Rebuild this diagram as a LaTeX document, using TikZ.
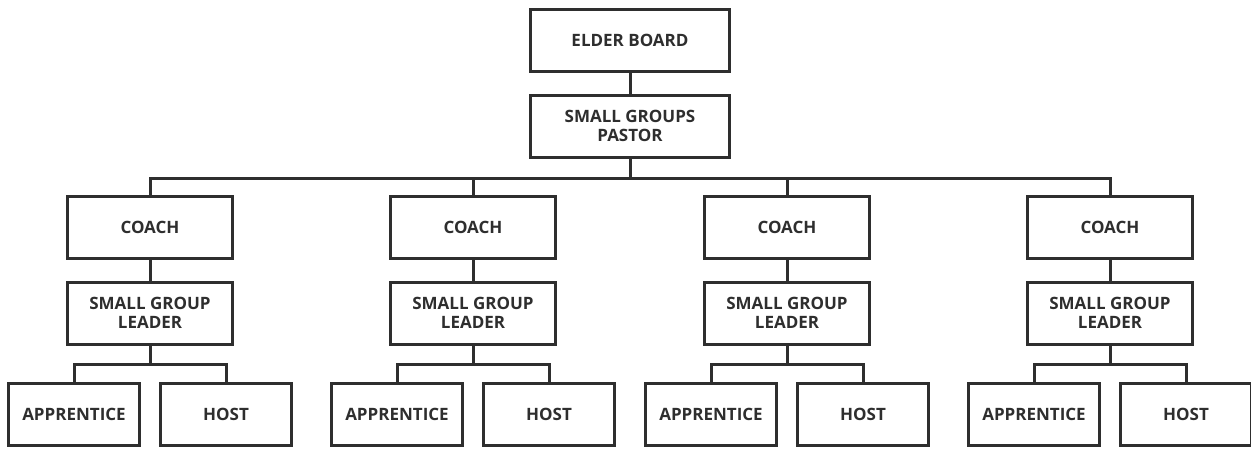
\documentclass[tikz,border=0pt]{standalone}
\usepackage{fontspec}
\setmainfont{Open Sans}
\definecolor{ink}{HTML}{2E2E2E}
\tikzset{
  box/.style={draw=ink, line width=3pt, text=ink, font=\fontsize{17}{19.5}\selectfont\bfseries, align=center, inner sep=0pt, outer sep=0pt, minimum height=62pt},
  topbox/.style={box, minimum width=199pt},
  midbox/.style={box, minimum width=165pt},
  leafbox/.style={box, minimum width=131pt},
  conn/.style={draw=ink, line width=3pt}
}
\begin{document}
\begin{tikzpicture}[x=1pt,y=-1pt]
\useasboundingbox (0,0) rectangle (1251,448);
\node[topbox] (elder) at (630,40.7) {ELDER BOARD};
\node[topbox] (pastor) at (630,126) {SMALL GROUPS\\PASTOR};
\draw[conn] (elder.south) -- (pastor.north);
\coordinate (bus) at (630,178);
\draw[conn] (pastor.south) -- (bus);
\foreach \i/\x in {1/150,2/473,3/787,4/1110}{
  \node[midbox] (c\i) at (\x,227.5) {COACH};
  \node[midbox] (s\i) at (\x,313) {SMALL GROUP\\LEADER};
  \node[leafbox] (a\i) at (\x-76,414.2) {APPRENTICE};
  \node[leafbox] (h\i) at (\x+76,414.2) {HOST};
  \coordinate (sb\i) at (\x,364);
  \draw[conn] (c\i.south) -- (s\i.north);
  \draw[conn] (s\i.south) -- (sb\i);
  \draw[conn] (a\i.north) |- (sb\i) -| (h\i.north);
}
\draw[conn] (c1.north) |- (bus) -| (c4.north);
\draw[conn] (c2.north) -- (c2.north |- bus);
\draw[conn] (c3.north) -- (c3.north |- bus);
\end{tikzpicture}
\end{document}
